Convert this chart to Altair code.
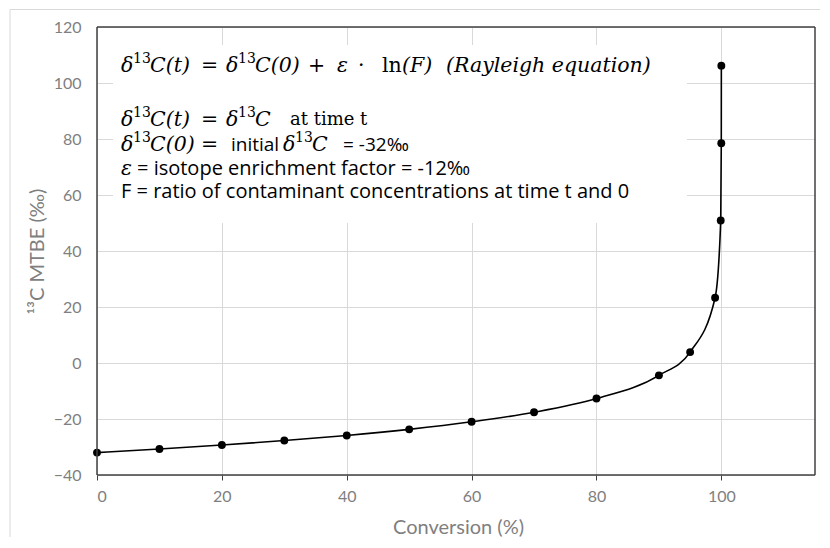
import altair as alt
import pandas as pd

# ---- data ----
conversion = [0, 10, 20, 30, 40, 50, 60, 70, 80, 90, 95, 99, 99.9, 99.99, 99.999]
delta13c = [-32.0, -30.7, -29.3, -27.7, -25.9, -23.7, -21.0, -17.6, -12.7, -4.4, 3.9, 23.3, 50.9, 78.5, 106.2]
x_ticks = [0, 20, 40, 60, 80, 100]
y_ticks = [-40, -20, 0, 20, 40, 60, 80, 100, 120]
x_domain = [0, 115]
y_domain = [-40, 120]
x_title = "Conversion (%)"
y_title = "¹³C MTBE (‰)"

df = pd.DataFrame({"conv": conversion, "d13c": delta13c})

W, H = 718, 448
SANS = "Lato"
TSANS = "Open Sans"
SERIF = "DejaVu Serif"
GREY = "#7f7f7f"
FRAME = "#404040"
MS = 20.5
SUP = 14

xscale = alt.Scale(domain=x_domain, nice=False, zero=False)
yscale = alt.Scale(domain=y_domain, nice=False, zero=False)

xenc = alt.X(
    "conv:Q", scale=xscale,
    axis=alt.Axis(
        values=x_ticks, title=x_title, grid=True, gridColor="#d9d9d9",
        domain=False, ticks=True, tickSize=5, tickColor=FRAME,
        labelFont=SANS, labelFontSize=16, labelColor=GREY, labelPadding=8,
        titleFont=SANS, titleFontSize=20, titleColor=GREY, titleFontWeight="normal",
        titleX=361, titleY=52, titleBaseline="middle", titleAlign="center",
    ),
)
yenc = alt.Y(
    "d13c:Q", scale=yscale,
    axis=alt.Axis(
        values=y_ticks, title=y_title, grid=True, gridColor="#d9d9d9",
        domain=False, ticks=False, labelFont=SANS, labelFontSize=16,
        labelColor=GREY, labelPadding=16,
        titleFont=SANS, titleFontSize=20, titleColor=GREY, titleFontWeight="normal",
        titleAngle=270, titleX=-60, titleY=H / 2, titleBaseline="middle", titleAlign="center",
    ),
)

base = alt.Chart(df)
line = base.mark_line(color="black", strokeWidth=1.6, interpolate="monotone").encode(x=xenc, y=yenc)
pts = base.mark_circle(color="black", opacity=1, size=62).encode(x="conv:Q", y="d13c:Q")

one = alt.Data(values=[{}])

box = alt.Chart(one).mark_rect(fill="white").encode(
    x=alt.value(16), x2=alt.value(590), y=alt.value(18), y2=alt.value(196)
)

frame = [
    alt.Chart(one).mark_rule(color=FRAME, strokeWidth=1.5).encode(x=alt.datum(x_domain[0], scale=xscale)),
    alt.Chart(one).mark_rule(color=FRAME, strokeWidth=1.5).encode(x=alt.datum(x_domain[1], scale=xscale)),
    alt.Chart(one).mark_rule(color=FRAME, strokeWidth=1.5).encode(y=alt.datum(y_domain[0], scale=yscale)),
    alt.Chart(one).mark_rule(color=FRAME, strokeWidth=1.5).encode(y=alt.datum(y_domain[1], scale=yscale)),
]


def rule(color, width, **enc):
    return alt.Chart(one).mark_rule(color=color, strokeWidth=width).encode(
        **{k: alt.value(v) for k, v in enc.items()}
    )


border = [
    rule("#d9d9d9", 1, x=-87, y=-17.5, y2=H + 120),
    rule("#d9d9d9", 1, y=-17.5, x=-87, x2=W + 60),
]


def seg(text, px, py, font, size, style="normal", dy=0):
    return alt.Chart(one).mark_text(
        text=text, font=font, fontSize=size, fontStyle=style,
        align="left", baseline="middle", color="black", dy=dy,
    ).encode(x=alt.value(px), y=alt.value(py))


def d13(px, py, tail):
    return [
        seg("δ", px, py, SERIF, MS, "italic"),
        seg("13", px + 12, py, SERIF, SUP, dy=-7),
        seg(tail, px + 29, py, SERIF, MS, "italic"),
    ]


X0 = 24
L1, L2, L3, L4, L5 = 39, 93, 118, 142, 165
segs = (
    d13(X0, L1, "C(t)")
    + [seg("=", 104, L1, SERIF, MS)]
    + d13(129, L1, "C(0)")
    + [
        seg("+", 211, L1, SERIF, MS),
        seg("ε", 240, L1, SERIF, MS, "italic"),
        seg("·", 261, L1, SERIF, MS),
        seg("ln", 285, L1, SERIF, MS),
        seg("(F)", 305, L1, SERIF, MS, "italic"),
        seg("(Rayleigh equation)", 349, L1, SERIF, MS, "italic"),
    ]
    + d13(X0, L2, "C(t)")
    + [seg("=", 104, L2, SERIF, MS)]
    + d13(129, L2, "C")
    + [seg("at time t", 193, L2, SERIF, 18)]
    + d13(X0, L3, "C(0)")
    + [seg("=", 104, L3, SERIF, MS), seg("initial", 134, L3, TSANS, 19)]
    + d13(186, L3, "C")
    + [
        seg("= -32‰", 246, L3, TSANS, 19),
        seg("ε", X0, L4, SERIF, MS, "italic"),
        seg("= isotope enrichment factor = -12‰", 40, L4, TSANS, 20),
        seg("F = ratio of contaminant concentrations at time t and 0", X0, L5, TSANS, 20),
    ]
)

chart = alt.layer(
    line, *border, box, *segs, pts, *frame
).properties(
    width=W, height=H,
    autosize=alt.AutoSizeParams(type="none"),
    padding={"left": 89, "top": 19, "right": 5, "bottom": 62},
).configure(
    background="white"
).configure_view(
    stroke=None
)

chart.save("out.html", embed_options={"renderer": "svg", "actions": False})
